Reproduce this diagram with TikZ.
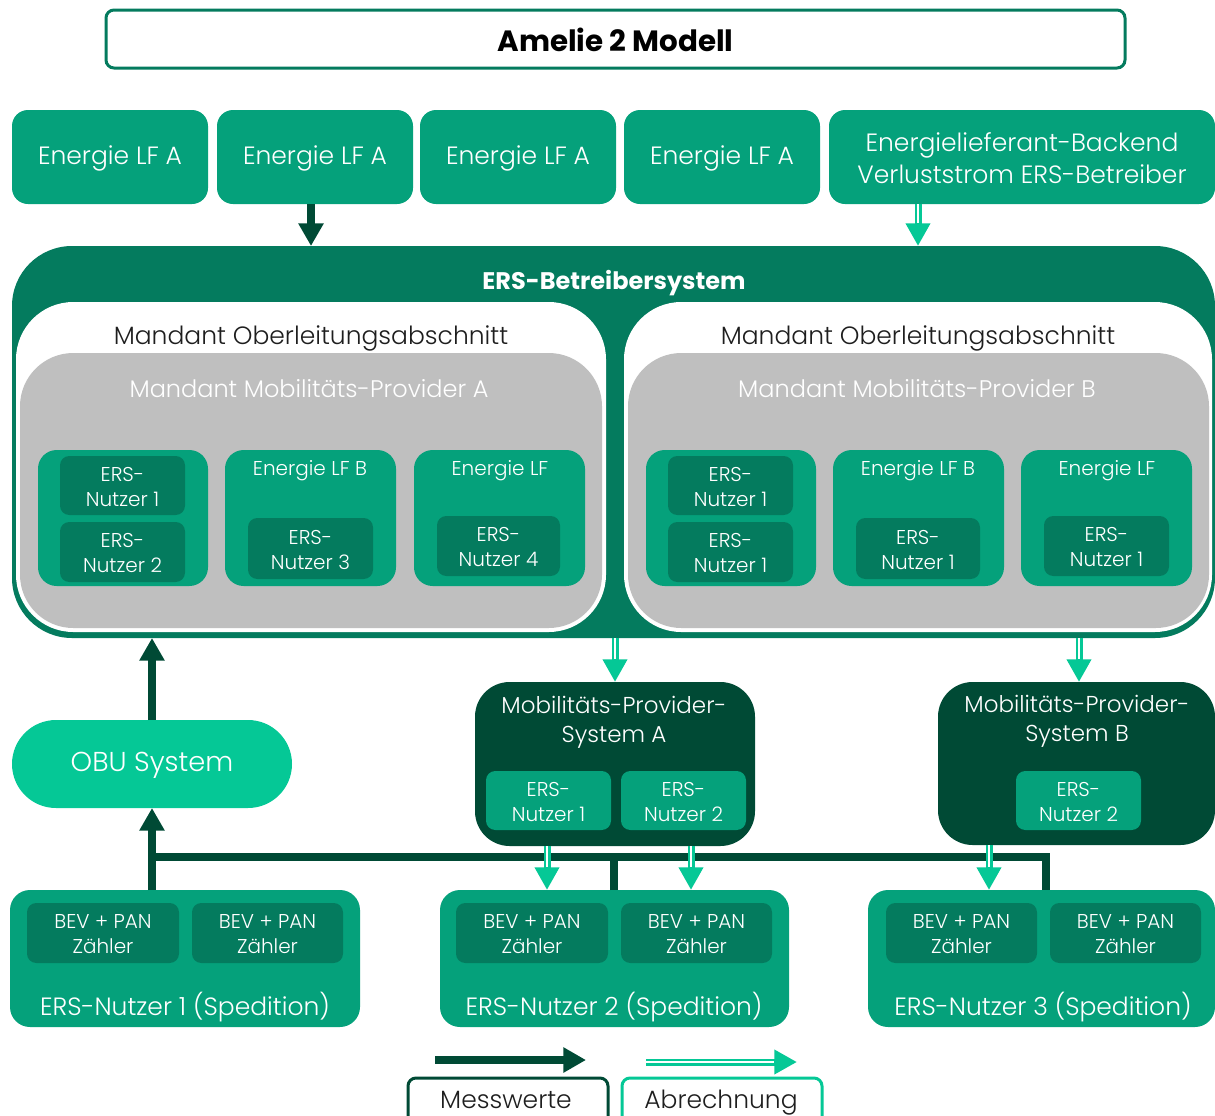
\documentclass[tikz,border=0pt]{standalone}
\usepackage{fontspec}
\IfFontExistsTF{Poppins Light}{\setmainfont{Poppins Light}[BoldFont=Poppins Bold]}{\setmainfont{Poppins}}
\usetikzlibrary{fit,arrows.meta}
\definecolor{gMid}{HTML}{05A17B}
\definecolor{gDark}{HTML}{047B5E}
\definecolor{gDeep}{HTML}{004A35}
\definecolor{gLight}{HTML}{05C896}
\definecolor{gGray}{HTML}{BFBFBF}
\definecolor{txtBlack}{HTML}{1E1E1E}
\newcommand\fsBig{\fontsize{18.75}{24}\selectfont}
\newcommand\fsSmall{\fontsize{15}{18.75}\selectfont}
\newcommand\fsMid{\fontsize{17.25}{21.75}\selectfont}
% box with a separate, centred text node: style, corner1, corner2, name, text style, text
\newcommand\tbx[6]{\node[#1, fit={#2 #3}] (#4) {};
  \node[#5] (#4t) at ([yshift=-1pt]#4.center) {#6};}
\begin{document}
\begin{tikzpicture}[x=0.75pt,y=-0.75pt,
  bx/.style={inner sep=0pt, outer sep=0pt},
  mid/.style={bx, fill=gMid, rounded corners=12pt},
  dk/.style={bx, fill=gDark, rounded corners=7pt},
  grp/.style={bx, fill=gMid, rounded corners=14pt},
  wtxt/.style={text=white, font=\fsBig, align=center},
  stxt/.style={text=white, font=\fsSmall, align=center},
  btxt/.style={text=txtBlack, font=\fsBig, align=center},
  mess/.style={draw=gDeep, line width=6pt, -{Triangle[width=18pt,length=17pt]}},
  messl/.style={draw=gDeep, line width=6pt, line join=miter},
  abr/.style={draw=gLight, line width=5.25pt, -{Triangle[width=17.5pt,length=17pt]},
    postaction={draw=white, line width=1.5pt, arrows=-, shorten >=17pt}},
]
\useasboundingbox (0,0) rectangle (1215,1115);
\clip (0,0) rectangle (1215,1115);

% title
\tbx{bx, draw=gDark, line width=2.25pt, rounded corners=6pt}{(106,10)}{(1125,68)}{title}
  {font=\bfseries\fontsize{22}{26}\selectfont, text=black}{Amelie 2 Modell}

% top row
\tbx{mid}{(12,110)}{(208,204)}{e1}{wtxt}{Energie LF A}
\tbx{mid}{(217,110)}{(413,204)}{e2}{wtxt}{Energie LF A}
\tbx{mid}{(420,110)}{(616,204)}{e3}{wtxt}{Energie LF A}
\tbx{mid}{(624,110)}{(820,204)}{e4}{wtxt}{Energie LF A}
\tbx{mid}{(829,110)}{(1215,204)}{e5}{wtxt}{Energielieferant-Backend\\Verluststrom ERS-Betreiber}

% ERS-Betreibersystem
\node[bx, fill=gDark, rounded corners=45pt, fit={(12,246) (1215,638)}] (ers) {};
\node[text=white, font=\bfseries\fontsize{18}{22}\selectfont] (erst) at (614,283) {ERS-Betreibersystem};
\node[bx, fill=white, rounded corners=43pt, fit={(16,302) (606,632)}] (wp1) {};
\node[bx, fill=white, rounded corners=43pt, fit={(624,302) (1212,632)}] (wp2) {};
\node[bx, fill=gGray, rounded corners=40pt, fit={(20,353) (602,628)}] (gp1) {};
\node[bx, fill=gGray, rounded corners=40pt, fit={(628,353) (1209,628)}] (gp2) {};
\node[btxt] (ob1) at (311,338) {Mandant Oberleitungsabschnitt};
\node[btxt] (ob2) at (918,338) {Mandant Oberleitungsabschnitt};
\node[wtxt, font=\fontsize{18}{22}\selectfont] (mpt1) at (309,389) {Mandant Mobilitäts-Provider A};
\node[wtxt, font=\fontsize{18}{22}\selectfont] (mpt2) at (917,389) {Mandant Mobilitäts-Provider B};

% left groups
\node[grp, fit={(38,450) (208,586)}] (g1) {};
\tbx{dk}{(60,456)}{(185,515)}{g1a}{stxt}{ERS-\\Nutzer 1}
\tbx{dk}{(60,522)}{(185,582)}{g1b}{stxt}{ERS-\\Nutzer 2}
\node[grp, fit={(225,450) (396,586)}] (g2) {};
\node[stxt] (g2t) at (310,471) {Energie LF B};
\tbx{dk}{(248,518)}{(373,579)}{g2a}{stxt}{ERS-\\Nutzer 3}
\node[grp, fit={(414,450) (585,586)}] (g3) {};
\node[stxt] (g3t) at (500,471) {Energie LF};
\tbx{dk}{(437,516)}{(560,576)}{g3a}{stxt}{ERS-\\Nutzer 4}
% right groups
\node[grp, fit={(646,450) (816,586)}] (g4) {};
\tbx{dk}{(668,456)}{(793,515)}{g4a}{stxt}{ERS-\\Nutzer 1}
\tbx{dk}{(668,522)}{(793,582)}{g4b}{stxt}{ERS-\\Nutzer 1}
\node[grp, fit={(833,450) (1004,586)}] (g5) {};
\node[stxt] (g5t) at (918,471) {Energie LF B};
\tbx{dk}{(856,518)}{(980,579)}{g5a}{stxt}{ERS-\\Nutzer 1}
\node[grp, fit={(1021,450) (1192,586)}] (g6) {};
\node[stxt] (g6t) at (1107,471) {Energie LF};
\tbx{dk}{(1044,516)}{(1169,576)}{g6a}{stxt}{ERS-\\Nutzer 1}

% Mobilitaets-Provider-Systeme
\node[bx, fill=gDeep, rounded corners=26pt, fit={(475,682) (755,846)}] (mpa) {};
\node[wtxt, font=\fsMid] (mpat) at (614,722) {Mobilitäts-Provider-\\System A};
\tbx{mid, rounded corners=7pt}{(486,771)}{(611,830)}{mpa1}{stxt}{ERS-\\Nutzer 1}
\tbx{mid, rounded corners=7pt}{(621,771)}{(746,830)}{mpa2}{stxt}{ERS-\\Nutzer 2}
\node[bx, fill=gDeep, rounded corners=26pt, fit={(938,682) (1215,845)}] (mpb) {};
\node[wtxt, font=\fsMid] (mpbt) at (1077,721) {Mobilitäts-Provider-\\System B};
\tbx{mid, rounded corners=7pt}{(1016,771)}{(1141,830)}{mpb1}{stxt}{ERS-\\Nutzer 2}

% OBU
\tbx{bx, fill=gLight, rounded corners=33pt}{(12,720)}{(292,808)}{obu}
  {text=white, font=\fontsize{20.5}{24}\selectfont}{OBU System}

% Speditionen
\node[mid, rounded corners=15pt, fit={(10,890) (360,1027)}] (sp1) {};
\tbx{dk}{(27,903)}{(179,963)}{sp1a}{stxt}{BEV + PAN\\Zähler}
\tbx{dk}{(192,903)}{(343,963)}{sp1b}{stxt}{BEV + PAN\\Zähler}
\node[wtxt] (sp1t) at (185,1007) {ERS-Nutzer 1 (Spedition)};
\node[mid, rounded corners=15pt, fit={(440,890) (789,1027)}] (sp2) {};
\tbx{dk}{(456,903)}{(608,963)}{sp2a}{stxt}{BEV + PAN\\Zähler}
\tbx{dk}{(621,903)}{(772,963)}{sp2b}{stxt}{BEV + PAN\\Zähler}
\node[wtxt] (sp2t) at (614,1007) {ERS-Nutzer 2 (Spedition)};
\node[mid, rounded corners=15pt, fit={(868,890) (1215,1027)}] (sp3) {};
\tbx{dk}{(886,903)}{(1037,963)}{sp3a}{stxt}{BEV + PAN\\Zähler}
\tbx{dk}{(1050,903)}{(1201,963)}{sp3b}{stxt}{BEV + PAN\\Zähler}
\node[wtxt] (sp3t) at (1043,1007) {ERS-Nutzer 3 (Spedition)};

% connectors
\coordinate (x1) at (311,0);
\coordinate (xb) at (1079,0);
\coordinate (xa1) at (547,0);
\coordinate (xa2) at (691,0);
\coordinate (xb1) at (989,0);
\coordinate (j1) at (152,857);
\coordinate (j2) at (614,857);
\coordinate (j3) at (1046,857);

\draw[mess] (x1 |- e2.south) -- (x1 |- ers.north);
\draw[abr] (wp2.north |- e5.south) -- (wp2.north |- ers.north);
\draw[mess] (obu.north) -- (obu.north |- ers.south);
\draw[mess] (obu.south |- sp1.north) -- (obu.south);
\draw[messl] (j3 |- sp3.north) -- (j3) -- (j1);
\draw[messl] (j2 |- sp2.north) -- (j2);
\draw[abr] (mpa.north |- ers.south) -- (mpa.north);
\draw[abr] (xb |- ers.south) -- (xb |- mpb.north);
\draw[abr] (xa1 |- mpa.south) -- (xa1 |- sp2.north);
\draw[abr] (xa2 |- mpa.south) -- (xa2 |- sp2.north);
\draw[abr] (xb1 |- mpb.south) -- (xb1 |- sp3.north);

% legend
\coordinate (lm1) at (435,1060);
\coordinate (lm2) at (586,1060);
\coordinate (la1) at (646,1062);
\coordinate (la2) at (797,1062);
\draw[mess] (lm1) -- (lm2);
\draw[abr] (la1) -- (la2);
\node[bx, draw=gDeep, line width=2.25pt, rounded corners=6pt, fit={(408,1078) (608,1135)}] (lbm) {};
\node[btxt, anchor=base] (lbmt) at (506,1108) {Messwerte};
\node[bx, draw=gLight, line width=2.25pt, rounded corners=6pt, fit={(622,1078) (822,1135)}] (lba) {};
\node[btxt, anchor=base] (lbat) at (721,1108) {Abrechnung};
\end{tikzpicture}
\end{document}
